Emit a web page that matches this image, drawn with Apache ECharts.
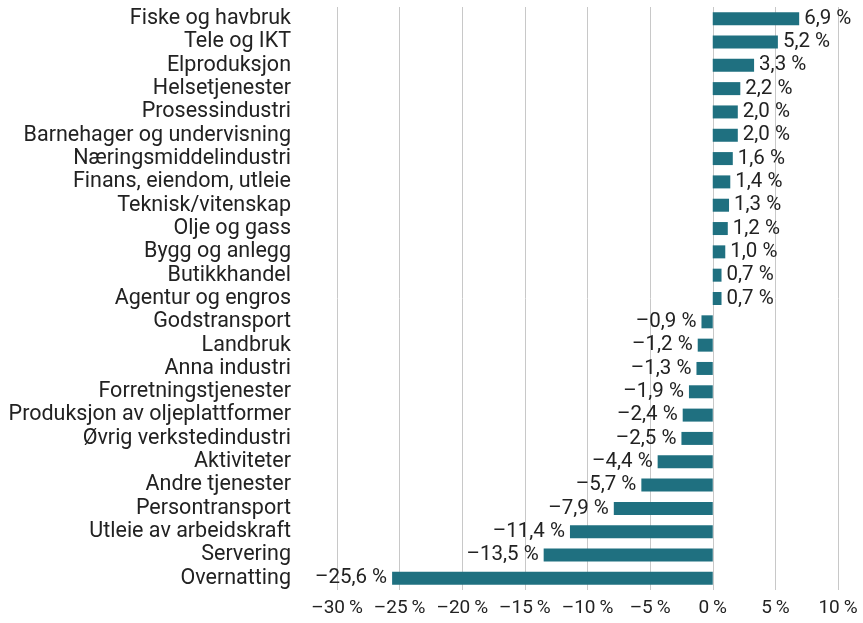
<!DOCTYPE html>
<html><head><meta charset="utf-8">
<script src="https://cdn.jsdelivr.net/npm/echarts@6/dist/echarts.min.js"></script>
<style>html,body{margin:0;padding:0;background:#fff}#c{width:863px;height:623px}</style>
</head><body><div id="c"></div>
<script>
const categories = ["Fiske og havbruk","Tele og IKT","Elproduksjon","Helsetjenester","Prosessindustri","Barnehager og undervisning","Næringsmiddelindustri","Finans, eiendom, utleie","Teknisk/vitenskap","Olje og gass","Bygg og anlegg","Butikkhandel","Agentur og engros","Godstransport","Landbruk","Anna industri","Forretningstjenester","Produksjon av oljeplattformer","Øvrig verkstedindustri","Aktiviteter","Andre tjenester","Persontransport","Utleie av arbeidskraft","Servering","Overnatting"];
const values = [6.9,5.2,3.3,2.2,2.0,2.0,1.6,1.4,1.3,1.2,1.0,0.7,0.7,-0.9,-1.2,-1.3,-1.9,-2.4,-2.5,-4.4,-5.7,-7.9,-11.4,-13.5,-25.6];
const xTicks = [-30,-25,-20,-15,-10,-5,0,5,10];

function fmt(v, dec, sp){
  const s = Math.abs(v).toFixed(dec).replace('.', ',');
  return (v < 0 ? '\u2013' : '') + s + sp + '%';
}
const FONT = 'Roboto';
const chart = echarts.init(document.getElementById('c'));
chart.setOption({
  animation:false,
  grid:{left:337,right:25,top:7,bottom:33,containLabel:false},
  xAxis:{type:'value',min:xTicks[0],max:xTicks[xTicks.length-1],interval:5,
    axisLine:{show:false},axisTick:{show:false},
    splitLine:{show:true,lineStyle:{color:'#c8c8c8',width:1}},
    axisLabel:{margin:9,fontFamily:FONT,fontSize:19,color:'#222',formatter:v=>fmt(v,0,'\u2009')}},
  yAxis:{type:'category',data:categories,inverse:true,
    axisLine:{show:false},axisTick:{show:false},
    axisLabel:{interval:0,margin:46,fontFamily:FONT,fontSize:21.5,color:'#222'}},
  series:[{type:'bar',barWidth:13,
    data:values.map(v=>({value:v,label:{position:v>=0?'right':'left'}})),
    itemStyle:{color:'#1f7080'},
    label:{show:true,distance:5,fontFamily:FONT,fontSize:20.5,color:'#222',formatter:p=>fmt(p.value,1,' ')}}]
});
</script></body></html>
